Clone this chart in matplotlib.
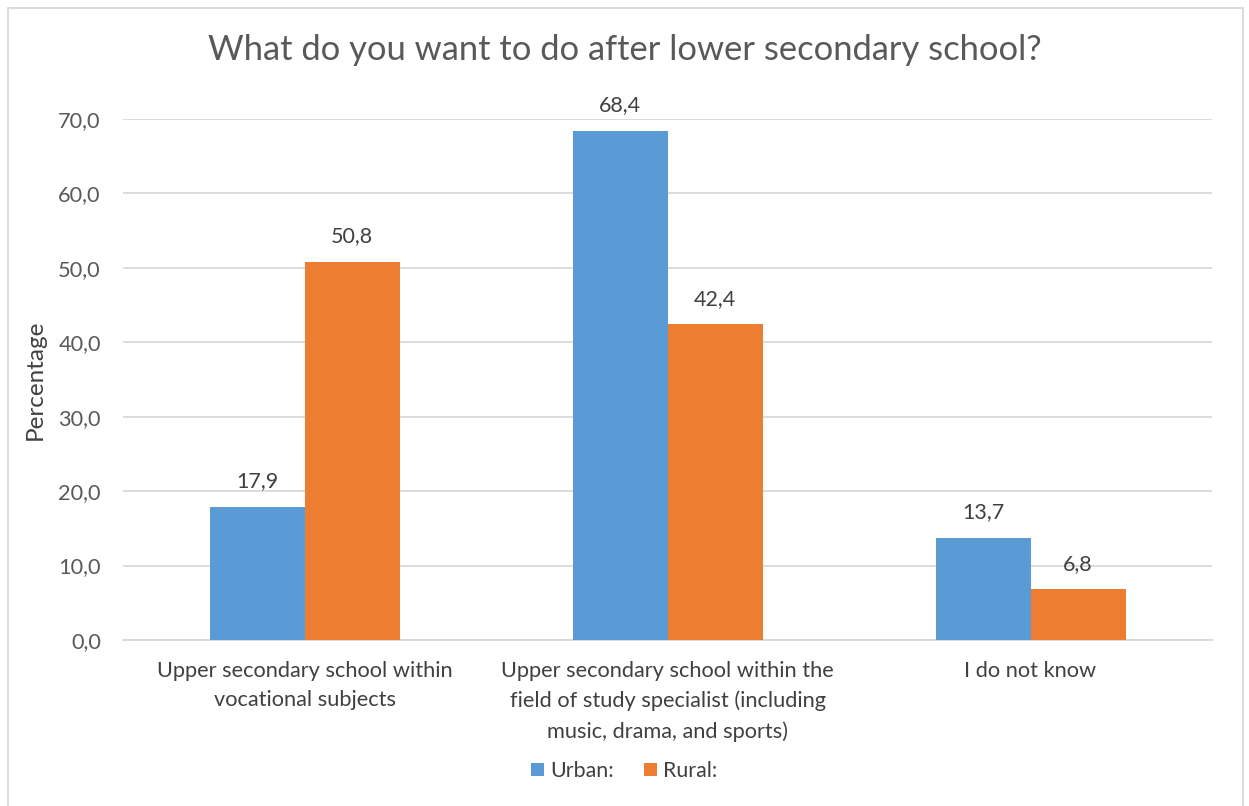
import numpy as np
import matplotlib.pyplot as plt
from matplotlib.patches import Rectangle

categories = [
    "Upper secondary school within\nvocational subjects",
    "Upper secondary school within the\nfield of study specialist (including\nmusic, drama, and sports)",
    "I do not know",
]
urban = [17.9, 68.4, 13.7]
rural = [50.8, 42.4, 6.8]
yticks = [0, 10, 20, 30, 40, 50, 60, 70]

plt.rcParams['font.family'] = ['Lato', 'DejaVu Sans']
grey = '#595959'
dark = '#404040'

fig = plt.figure(figsize=(12.49, 8.06), dpi=100)
ax = fig.add_axes([123 / 1249, 166 / 806, 1089 / 1249, 521 / 806])

# chart frame
fig.patches.append(Rectangle((8 / 1249, -0.01), 1235 / 1249, 1 - 8 / 806 + 0.01,
                             transform=fig.transFigure, fill=False,
                             edgecolor='#d9d9d9', linewidth=1.3))

x = np.arange(len(categories))
w = 95 / 363
b1 = ax.bar(x - w / 2, urban, w, color='#5B9BD5', label='Urban:', zorder=3)
b2 = ax.bar(x + w / 2, rural, w, color='#ED7D31', label='Rural:', zorder=3)

for bars, vals in ((b1, urban), (b2, rural)):
    for r, v in zip(bars, vals):
        ax.text(r.get_x() + r.get_width() / 2, v + 2.1, f"{v:.1f}".replace('.', ','),
                ha='center', va='bottom', fontsize=15.5, color=dark)

ax.set_xlim(-0.5, 2.5)
ax.set_ylim(0, 70)
ax.set_yticks(yticks)
ax.set_yticklabels([f"{t:.1f}".replace('.', ',') for t in yticks], fontsize=15.7, color=grey)
ax.set_xticks(x)
ax.set_xticklabels(categories, fontsize=15.7, color=dark, linespacing=1.6, va='top')
ax.tick_params(axis='both', length=0)
ax.tick_params(axis='y', pad=16)
ax.tick_params(axis='x', pad=15)
ax.grid(axis='y', color='#d9d9d9', linewidth=1.3, zorder=0)
for s in ('top', 'right', 'left'):
    ax.spines[s].set_visible(False)
ax.spines['bottom'].set_color('#d9d9d9')
ax.spines['bottom'].set_linewidth(1.3)

ax.set_ylabel('Percentage', fontsize=17.5, color=dark, labelpad=9)
fig.text(0.5, 1 - 50 / 806, 'What do you want to do after lower secondary school?',
         ha='center', va='center', fontsize=24.8, color=grey)

fig.legend(loc='center', bbox_to_anchor=(0.5, 1 - 771 / 806), ncol=2, frameon=False,
           fontsize=15.4, handlelength=0.6, handleheight=0.6, handletextpad=0.3,
           columnspacing=1.4, labelcolor=dark)

fig.savefig('out.png', dpi=100)
